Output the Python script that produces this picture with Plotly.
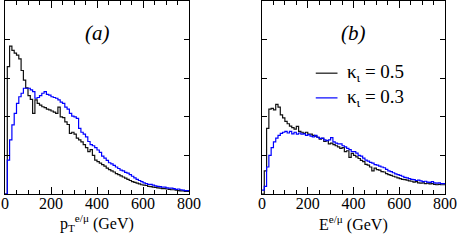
import numpy as np
import plotly.graph_objects as go

# bin edges: 10 GeV bins from 0 to 800
bin_width = 10
n_bins = 80

# Panel (a): p_T^{e/mu}
pt_k05 = [0, 3.3, 3.83, 3.72, 3.65, 3.6, 3.5, 3.2, 2.95, 2.75,
          2.55, 2.45, 2.09, 2.44, 2.35, 2.3, 2.26, 2.24, 2.2, 2.18,
          2.15, 2.12, 2.09, 2.25, 2.0, 1.98, 1.87, 1.8, 1.57, 1.6,
          1.55, 1.45, 1.4, 1.35, 1.28, 1.2, 1.1, 1.15, 1.0, 0.88,
          0.84, 0.8, 0.76, 0.72, 0.67, 0.63, 0.6, 0.57, 0.53, 0.5,
          0.47, 0.44, 0.41, 0.38, 0.35, 0.32, 0.3, 0.28, 0.26, 0.24,
          0.23, 0.22, 0.2, 0.19, 0.18, 0.17, 0.16, 0.15, 0.14, 0.14,
          0.13, 0.12, 0.11, 0.11, 0.1, 0.09, 0.08, 0.08, 0.07, 0.07]
pt_k03 = [0, 0.88, 1.4, 1.79, 2.09, 2.35, 2.52, 2.61, 2.74, 2.74,
          2.74, 2.7, 2.65, 2.48, 2.5, 2.55, 2.61, 2.65, 2.58, 2.56,
          2.52, 2.5, 2.48, 2.44, 2.38, 2.35, 2.25, 2.2, 2.09, 2.02,
          2.0, 1.96, 1.7, 1.6, 1.55, 1.48, 1.36, 1.28, 1.25, 1.2,
          1.14, 1.08, 0.98, 0.93, 0.87, 0.81, 0.78, 0.74, 0.7, 0.66,
          0.62, 0.6, 0.56, 0.54, 0.5, 0.46, 0.42, 0.38, 0.35, 0.32,
          0.29, 0.27, 0.25, 0.25, 0.23, 0.21, 0.2, 0.19, 0.18, 0.18,
          0.16, 0.15, 0.15, 0.14, 0.12, 0.13, 0.11, 0.1, 0.09, 0.09]

# Panel (b): E^{e/mu}
e_k05 = [0, 0.6, 1.7, 2.2, 2.22, 2.18, 2.32, 2.25, 2.05, 1.97,
         1.88, 1.82, 1.76, 1.72, 1.68, 1.75, 1.62, 1.6, 1.57, 1.6,
         1.55, 1.55, 1.52, 1.5, 1.47, 1.42, 1.44, 1.36, 1.38, 1.3,
         1.32, 1.28, 1.25, 1.22, 1.18, 1.2, 1.1, 1.12, 0.95, 1.05,
         1.0, 0.96, 0.92, 0.87, 0.84, 0.77, 0.75, 0.7, 0.6, 0.67,
         0.63, 0.62, 0.58, 0.57, 0.53, 0.5, 0.48, 0.46, 0.44, 0.42,
         0.4, 0.38, 0.37, 0.36, 0.34, 0.33, 0.31, 0.32, 0.29, 0.28,
         0.29, 0.27, 0.28, 0.26, 0.27, 0.25, 0.24, 0.25, 0.24, 0.24]
e_k03 = [0.1, 0.2, 0.7, 1.0, 1.2, 1.35, 1.45, 1.52, 1.57, 1.6,
         1.62, 1.58, 1.62, 1.56, 1.6, 1.55, 1.58, 1.55, 1.56, 1.52,
         1.54, 1.5, 1.48, 1.52, 1.47, 1.44, 1.45, 1.4, 1.38, 1.4,
         1.46, 1.35, 1.32, 1.3, 1.3, 1.25, 1.22, 1.18, 1.15, 1.1,
         1.1, 1.06, 1.0, 0.98, 0.93, 0.88, 0.85, 0.82, 0.8, 0.76,
         0.75, 0.72, 0.7, 0.68, 0.64, 0.6, 0.58, 0.55, 0.52, 0.5,
         0.48, 0.46, 0.43, 0.42, 0.4, 0.38, 0.37, 0.35, 0.36, 0.34,
         0.32, 0.33, 0.31, 0.3, 0.32, 0.29, 0.28, 0.29, 0.27, 0.27]

x_ticks = [0, 200, 400, 600, 800]
x_tick_labels = ["0", "200", "400", "600", "800"]
axis_titles = ["p<sub>T</sub><sup>e/μ</sup> (GeV)", "E<sup>e/μ</sup> (GeV)"]
panel_labels = ["<i>(a)</i>", "<i>(b)</i>"]
series_names = ["κ<sub>ι</sub> = 0.5", "κ<sub>ι</sub> = 0.3"]
colors = ["#111111", "#0000ff"]

edges = np.arange(n_bins + 1) * bin_width


def step_xy(vals):
    xs = list(edges)
    ys = list(vals) + [vals[-1]]
    return xs, ys


SERIF = "'Liberation Serif', 'Times New Roman', Times, serif"
fig = go.Figure()

for (vals, name, col) in [(pt_k05, series_names[0], colors[0]),
                          (pt_k03, series_names[1], colors[1])]:
    xs, ys = step_xy(vals)
    fig.add_trace(go.Scatter(x=xs, y=ys, mode="lines", line=dict(shape="hv", color=col, width=1.2),
                             name=name, showlegend=False, xaxis="x", yaxis="y"))
for (vals, name, col) in [(e_k05, series_names[0], colors[0]),
                          (e_k03, series_names[1], colors[1])]:
    xs, ys = step_xy(vals)
    fig.add_trace(go.Scatter(x=xs, y=ys, mode="lines", line=dict(shape="hv", color=col, width=1.2),
                             name=name, showlegend=False, xaxis="x2", yaxis="y2"))

W, H = 458, 241
ml, mr, mt, mb = 5, 13, 1, 47
pw = W - ml - mr
ph = H - mt - mb
d1 = [0, (189 - 5) / pw]
d2 = [(262 - 5) / pw, 1]

xcommon = dict(range=[0, 800], tickmode="array", tickvals=x_ticks, ticktext=x_tick_labels,
               ticks="inside", ticklen=7, tickcolor="black", tickwidth=1,
               minor=dict(dtick=50, ticks="inside", ticklen=4, tickcolor="black", tickwidth=1),
               showline=True, linecolor="black", linewidth=1.2, mirror="ticks",
               showgrid=False, zeroline=False, automargin=False, ticklabelstandoff=-5,
               tickfont=dict(family=SERIF, size=16, color="black"))
ycommon = dict(range=[0, 5], tickmode="array", tickvals=[1, 2, 3, 4], showticklabels=False,
               ticks="inside", ticklen=5, tickcolor="black", tickwidth=1,
               showline=True, linecolor="black", linewidth=1.2, mirror="ticks",
               showgrid=False, zeroline=False, automargin=False)

fig.update_layout(
    width=W, height=H, margin=dict(l=ml, r=mr, t=mt, b=mb, autoexpand=False),
    paper_bgcolor="white", plot_bgcolor="white",
    font=dict(family=SERIF, color="black"),
    xaxis=dict(domain=d1, anchor="y", **xcommon),
    yaxis=dict(domain=[0, 1], anchor="x", **ycommon),
    xaxis2=dict(domain=d2, anchor="y2", **xcommon),
    yaxis2=dict(domain=[0, 1], anchor="x2", **ycommon),
    showlegend=False,
)

# axis titles (as annotations for precise placement)
title_y = -(223 - 194) / ph
for xr, txt in [("x domain", axis_titles[0]), ("x2 domain", axis_titles[1])]:
    fig.add_annotation(x=0.5, y=title_y, xref=xr, yref="paper", text=txt, showarrow=False,
                       xanchor="center", yanchor="middle",
                       font=dict(family=SERIF, size=16, color="black"))

# panel labels
fig.add_annotation(x=400, y=4.18, xref="x", yref="y", text=panel_labels[0], showarrow=False,
                   font=dict(family=SERIF, size=21, color="black"))
fig.add_annotation(x=400, y=4.18, xref="x2", yref="y2", text=panel_labels[1], showarrow=False,
                   font=dict(family=SERIF, size=21, color="black"))

# legend in panel (b)
for i, (name, col) in enumerate(zip(series_names, colors)):
    yv = 3.13 - i * 0.64
    fig.add_shape(type="line", xref="x2", yref="y2", x0=235, x1=330, y0=yv, y1=yv,
                  line=dict(color=col, width=1.2))
    fig.add_annotation(x=365, y=yv, xref="x2", yref="y2", text=name, showarrow=False,
                       xanchor="left", font=dict(family=SERIF, size=19, color="black"))

fig.write_html("out.html", config={"displayModeBar": False},
               post_script="document.body.style.margin='0px';document.body.style.overflow='hidden';")
